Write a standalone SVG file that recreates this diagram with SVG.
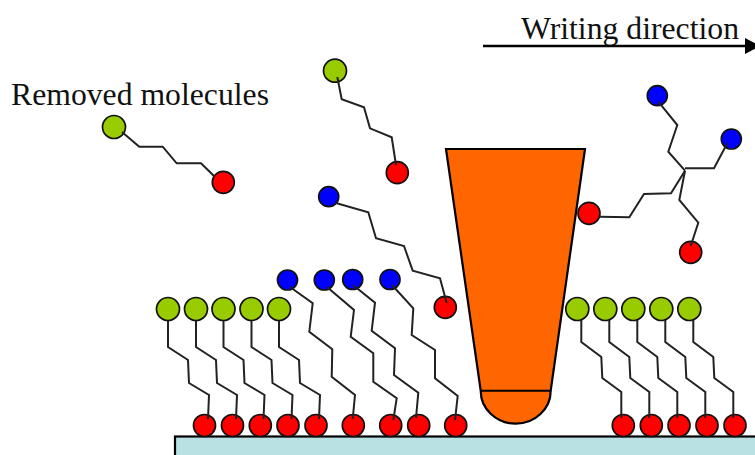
<svg xmlns="http://www.w3.org/2000/svg" width="755" height="455" viewBox="0 0 755 455">
  <style>
    .label { font-family: "Liberation Serif", "Times New Roman", serif; font-size: 31px; fill: #111; }
    .chain { fill: none; stroke: #222; stroke-width: 2; stroke-linejoin: miter; }
    .green { fill: #99cc00; stroke: #111; stroke-width: 1.7; }
    .red { fill: #ff0000; stroke: #111; stroke-width: 1.7; }
    .blue { fill: #0000ff; stroke: #111; stroke-width: 1.7; }
    .tip { fill: #ff6600; stroke: #000; stroke-width: 2.2; stroke-linejoin: miter; }
  </style>
  <defs>
    <!-- standing chain, left patch: head at origin -->
    <polyline id="chainL" class="chain" points="0,12 0,38 20,51 21,74 41,86 40,110"/>
    <!-- standing chain, right patch -->
    <polyline id="chainR" class="chain" points="4,11 4,33 24,48 25,69 44,83 44,109"/>
  </defs>

  <rect width="755" height="455" fill="#ffffff"/>

  <!-- substrate -->
  <g id="substrate">
    <rect x="175" y="436.5" width="600" height="40" fill="#b9e0e3" stroke="#000" stroke-width="2.2"/>
  </g>

  <!-- labels -->
  <g id="label-removed">
    <text class="label" x="11" y="105" textLength="258" lengthAdjust="spacingAndGlyphs">Removed molecules</text>
  </g>
  <g id="label-direction">
    <text class="label" x="521" y="38.5" textLength="218" lengthAdjust="spacingAndGlyphs">Writing direction</text>
    <line x1="483" y1="46" x2="747" y2="46" stroke="#000" stroke-width="2.5"/>
    <polygon points="745,38 760,46 745,54" fill="#000"/>
  </g>

  <!-- left monolayer: full-length molecules -->
  <g id="monolayer-left">
    <g id="mol-l1">
      <circle class="red" cx="204.5" cy="425.5" r="11"/>
      <circle class="green" cx="168" cy="309" r="11.5"/>
      <use href="#chainL" x="168" y="309"/>
    </g>
    <g id="mol-l2">
      <circle class="red" cx="232.5" cy="425.5" r="11"/>
      <circle class="green" cx="196" cy="309" r="11.5"/>
      <use href="#chainL" x="196" y="309"/>
    </g>
    <g id="mol-l3">
      <circle class="red" cx="260.3" cy="425.5" r="11"/>
      <circle class="green" cx="223.5" cy="309" r="11.5"/>
      <use href="#chainL" x="223.5" y="309"/>
    </g>
    <g id="mol-l4">
      <circle class="red" cx="288" cy="425.5" r="11"/>
      <circle class="green" cx="251.5" cy="309" r="11.5"/>
      <use href="#chainL" x="251.5" y="309"/>
    </g>
    <g id="mol-l5">
      <circle class="red" cx="316" cy="425.5" r="11"/>
      <circle class="green" cx="279" cy="309" r="11.5"/>
      <use href="#chainL" x="279" y="309"/>
    </g>
  </g>

  <!-- written molecules with blue heads -->
  <g id="monolayer-written">
    <g id="mol-b1">
      <circle class="red" cx="353.3" cy="425.5" r="11"/>
      <circle class="blue" cx="287.5" cy="280" r="10"/>
      <polyline class="chain" points="290,287 312.7,303.3 309.3,331.7 332.3,349.3 331.7,376.7 355,395 352.7,419"/>
    </g>
    <g id="mol-b2">
      <circle class="red" cx="390.7" cy="425.5" r="11"/>
      <circle class="blue" cx="324.3" cy="280" r="10"/>
      <polyline class="chain" points="327,287 354,310 350.7,336.7 373.3,353.3 373.3,381.7 396.7,398.3 393.3,420"/>
    </g>
    <g id="mol-b3">
      <circle class="red" cx="418.7" cy="425.5" r="11"/>
      <circle class="blue" cx="352.7" cy="279.5" r="10"/>
      <polyline class="chain" points="353,285 375,302.7 371.7,330.7 395,348.3 394,375 418.3,392.7 416,418"/>
    </g>
    <g id="mol-b4">
      <circle class="red" cx="455.7" cy="425.5" r="11"/>
      <circle class="blue" cx="390" cy="279.5" r="10"/>
      <polyline class="chain" points="392,285 413.3,308.3 411.7,335 435,350 435,378.3 457.7,396 455,420"/>
    </g>
  </g>

  <!-- right monolayer -->
  <g id="monolayer-right">
    <g id="mol-r1">
      <circle class="red" cx="623.3" cy="425.5" r="11"/>
      <circle class="green" cx="577.3" cy="309" r="11.5"/>
      <use href="#chainR" x="577.3" y="309"/>
    </g>
    <g id="mol-r2">
      <circle class="red" cx="651.3" cy="425.5" r="11"/>
      <circle class="green" cx="605.3" cy="309" r="11.5"/>
      <use href="#chainR" x="605.3" y="309"/>
    </g>
    <g id="mol-r3">
      <circle class="red" cx="679" cy="425.5" r="11"/>
      <circle class="green" cx="633.3" cy="309" r="11.5"/>
      <use href="#chainR" x="633.3" y="309"/>
    </g>
    <g id="mol-r4">
      <circle class="red" cx="707" cy="425.5" r="11"/>
      <circle class="green" cx="661.3" cy="309" r="11.5"/>
      <use href="#chainR" x="661.3" y="309"/>
    </g>
    <g id="mol-r5">
      <circle class="red" cx="735" cy="425.5" r="11"/>
      <circle class="green" cx="689.3" cy="309" r="11.5"/>
      <use href="#chainR" x="689.3" y="309"/>
    </g>
  </g>

  <!-- free molecules -->
  <g id="free-1">
    <circle class="green" cx="114" cy="127" r="11.5"/>
    <circle class="red" cx="223.3" cy="182.3" r="11"/>
    <polyline class="chain" points="122,132 139.3,146.7 162.7,146.7 176.7,163.3 201,163.3 214,176"/>
  </g>
  <g id="free-2">
    <circle class="green" cx="335" cy="70.7" r="11.5"/>
    <circle class="red" cx="397.3" cy="172.7" r="11"/>
    <polyline class="chain" points="337.3,77 341.7,99.3 364,107.3 370,128.3 391.7,137.3 396,165"/>
  </g>
  <g id="free-3">
    <circle class="blue" cx="328.7" cy="196.7" r="10"/>
    <circle class="red" cx="445.3" cy="307.3" r="11"/>
    <polyline class="chain" points="336.7,203.3 368.3,212.3 376,238.3 404,246 412.7,270.7 440,278.3 446.7,303"/>
  </g>
  <g id="free-branched">
    <circle class="blue" cx="657.3" cy="95.7" r="10"/>
    <circle class="blue" cx="731.3" cy="139" r="10"/>
    <circle class="red" cx="589" cy="213.3" r="11"/>
    <circle class="red" cx="690.7" cy="252.3" r="11"/>
    <polyline class="chain" points="658.3,101.7 677.3,125 668.3,151.7 685,170.7"/>
    <polyline class="chain" points="727.3,143.3 714,168.3 685,168.3"/>
    <polyline class="chain" points="685,170.7 671,193.3 644,194 629.3,217.3 600,216.7"/>
    <polyline class="chain" points="685,170.7 679.3,200 698.3,222.7 690.7,246"/>
  </g>

  <!-- pen tip -->
  <g id="tip">
    <path class="tip" d="M446,149 L585,149 L550.7,390.7 A35,33 0 0 1 480.7,390.7 Z"/>
    <line x1="480.7" y1="390.7" x2="550.7" y2="390.7" stroke="#000" stroke-width="2"/>
  </g>
</svg>
